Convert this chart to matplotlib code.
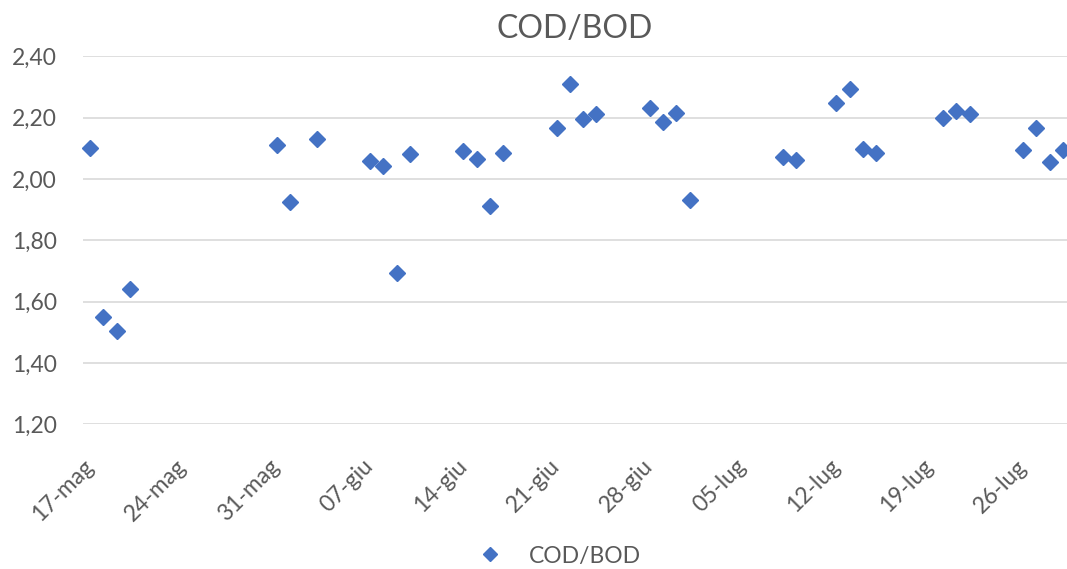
import matplotlib
matplotlib.use("Agg")
import matplotlib.pyplot as plt
import matplotlib.dates as mdates
import pandas as pd

# sample dates and COD/BOD ratio
dates = ["2021-05-17", "2021-05-18", "2021-05-19", "2021-05-20",
         "2021-05-31", "2021-06-01", "2021-06-03",
         "2021-06-07", "2021-06-08", "2021-06-09", "2021-06-10",
         "2021-06-14", "2021-06-15", "2021-06-16", "2021-06-17",
         "2021-06-21", "2021-06-22", "2021-06-23", "2021-06-24",
         "2021-06-28", "2021-06-29", "2021-06-30", "2021-07-01",
         "2021-07-08", "2021-07-09",
         "2021-07-12", "2021-07-13", "2021-07-14", "2021-07-15",
         "2021-07-20", "2021-07-21", "2021-07-22",
         "2021-07-26", "2021-07-27", "2021-07-28", "2021-07-29"]
cod_bod = [2.10, 1.55, 1.505, 1.64,
           2.11, 1.926, 2.13,
           2.06, 2.043, 1.692, 2.081,
           2.092, 2.064, 1.912, 2.086,
           2.166, 2.309, 2.195, 2.211,
           2.232, 2.187, 2.214, 1.931,
           2.071, 2.061,
           2.247, 2.292, 2.098, 2.085,
           2.200, 2.223, 2.212,
           2.093, 2.166, 2.057, 2.093]

tick_dates = ["2021-05-17", "2021-05-24", "2021-05-31", "2021-06-07",
              "2021-06-14", "2021-06-21", "2021-06-28", "2021-07-05",
              "2021-07-12", "2021-07-19", "2021-07-26"]
tick_labels = ["17-mag", "24-mag", "31-mag", "07-giu", "14-giu", "21-giu",
               "28-giu", "05-lug", "12-lug", "19-lug", "26-lug"]
y_ticks = [1.20, 1.40, 1.60, 1.80, 2.00, 2.20, 2.40]
y_labels = ["1,20", "1,40", "1,60", "1,80", "2,00", "2,20", "2,40"]

plt.rcParams['font.family'] = ['Lato', 'DejaVu Sans']
gray = "#595959"
blue = "#4472C4"

fig = plt.figure(figsize=(10.67, 5.69), dpi=100)
ax = fig.add_axes([0.0781, 0.2545, 1 - 0.0781, 0.6464])

x = pd.to_datetime(dates)
ax.plot(x, cod_bod, linestyle="none", marker="D", markersize=8.6,
        color=blue, label="COD/BOD", clip_on=False)

start = pd.Timestamp("2021-05-17")
ax.set_xlim(start - pd.Timedelta(hours=12), start + pd.Timedelta(days=73.3))
ax.set_ylim(1.20, 2.40)

ax.set_yticks(y_ticks)
ax.set_yticklabels(y_labels, fontsize=16.5, color=gray)
ax.set_xticks(pd.to_datetime(tick_dates))
ax.set_xticklabels(tick_labels, fontsize=16.5, color=gray, rotation=45,
                   ha="right", va="center", rotation_mode="anchor")
ax.tick_params(axis="x", length=0, pad=28)
ax.tick_params(axis="y", length=0, pad=19)

ax.grid(axis="y", color="#D9D9D9", linewidth=1.2)
ax.set_axisbelow(True)
for s in ax.spines.values():
    s.set_visible(False)

fig.text(575 / 1067, 1 - 38 / 569, "COD/BOD", fontsize=23, color=gray,
         ha="center", va="baseline")

fig.legend(loc="center", bbox_to_anchor=(560 / 1067, 1 - 556 / 569),
           frameon=False, fontsize=16.5, labelcolor=gray, handlelength=1.0,
           handletextpad=1.2, markerscale=0.8)

fig.savefig("out.png", dpi=100)
